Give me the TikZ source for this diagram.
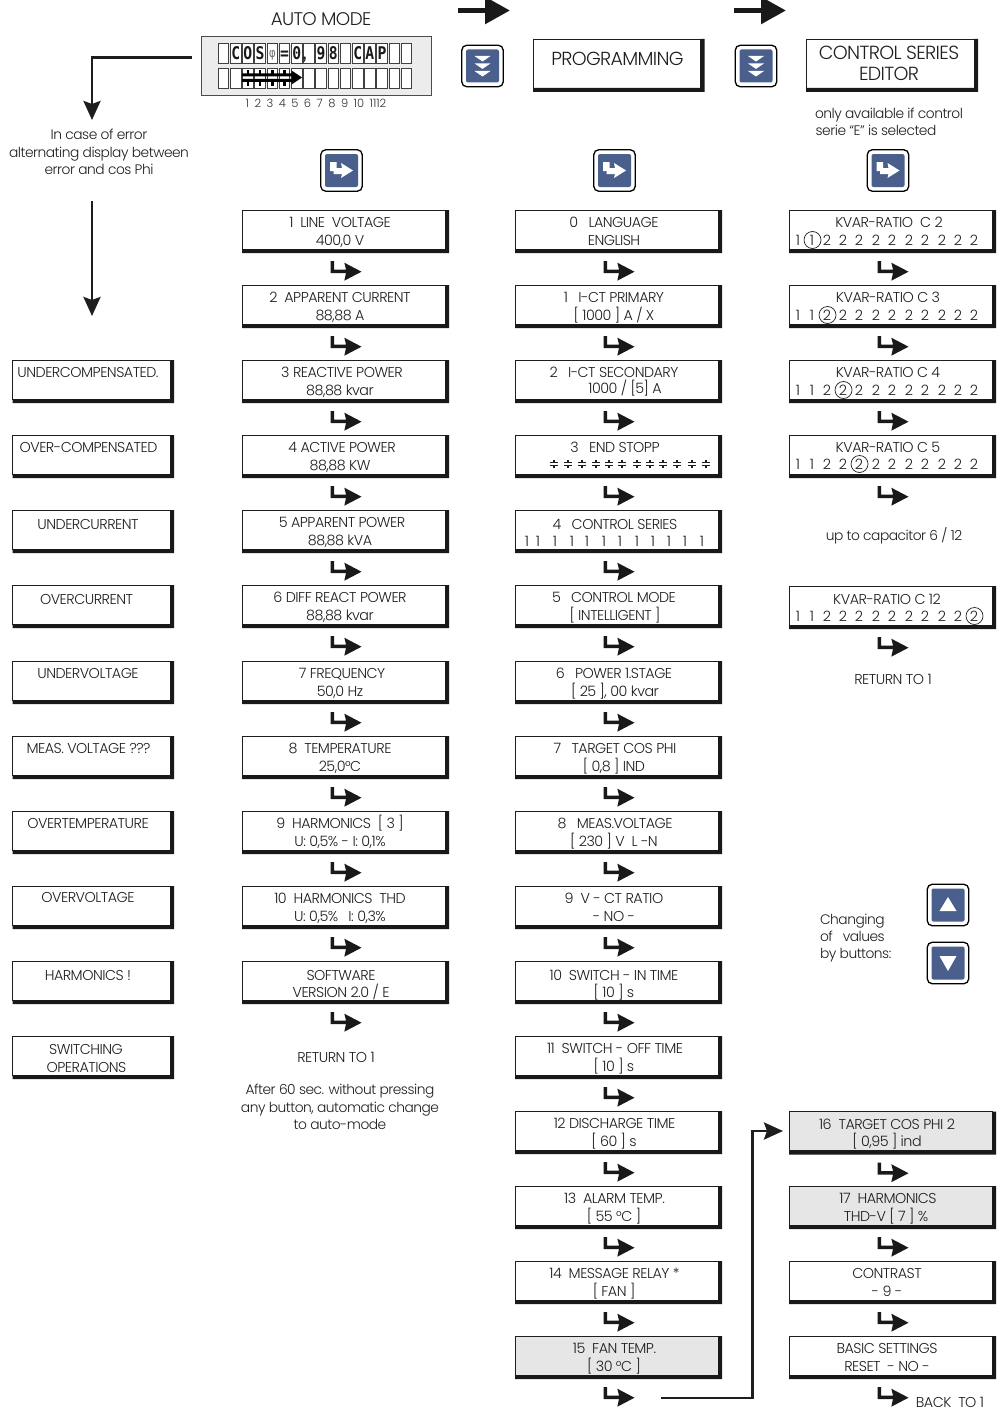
\documentclass[tikz,border=0pt]{standalone}
\usepackage{fontspec}
\setmainfont{Poppins Light}[LetterSpace=-3.5]
\newfontfamily\plainfont{Poppins Light}[LetterSpace=-3.5]
\newfontfamily\numfont{Poppins Light}
\newfontfamily\lcdfont{DejaVu Sans Mono}[FakeStretch=0.84]
\newfontfamily\commafont{Liberation Sans}
\usetikzlibrary{calc,arrows.meta}
\definecolor{inkc}{HTML}{1E1E1E}
\definecolor{btnblue}{HTML}{4A5F8C}
\definecolor{panelgrey}{HTML}{E6E6E6}
\definecolor{lcdgrey}{HTML}{ECECEC}
\tikzset{
  x=1pt,y=-1pt,
  lbl/.style={anchor=base,inner sep=0,outer sep=0,text=inkc,font=\fontsize{14.3}{18}\selectfont},
  lowlbl/.style={lbl,font=\plainfont\fontsize{13.8}{18}\selectfont},
  cellbox/.style={draw=inkc,line width=0.8,fill=white,anchor=north west,minimum width=203,minimum height=39,inner sep=0,outer sep=0},
  greybox/.style={cellbox,fill=panelgrey},
  errbox/.style={cellbox,minimum width=157.5},
  bigbox/.style={cellbox,minimum height=49},
  shadowfill/.style={fill=black!90},
  conn/.style={draw=inkc,line width=2.9,-{Stealth[length=19,width=17,inset=3]}},
  toparrow/.style={draw=black!90,line width=5.5,-{Stealth[length=25,width=26,inset=0]}},
  btnouter/.style={draw=black,line width=1.3,fill=white,rounded corners=5,minimum size=41.5,inner sep=0},
  btninner/.style={fill=btnblue,rounded corners=2,minimum size=33,inner sep=0},
  ring/.style={draw=inkc,line width=0.7,circle,minimum size=17,inner sep=0},
  lcdchar/.style={anchor=base,inner sep=0,font=\lcdfont\bfseries\fontsize{17.5}{18}\selectfont,text=black!90},
  lcdcell/.style={draw=black!75,line width=0.9,fill=white,minimum width=10.5,minimum height=20,inner sep=0},
  stepglyph/.pic={\fill[black!90] (0,0)--(3.5,0)--(3.5,8.5)--(15.5,8.5)--(13.8,1.7)--(31,10.7)--(13.8,19.7)--(15.5,12)--(0,12)--cycle;},
  enterglyph/.pic={\fill[white] (-11.5,-8.5)--(-5,-8.5)--(-5,-2.5)--(0.5,-2.5)--(-0.5,-7.5)--(11.5,0)--(-0.5,7.5)--(0.5,3.5)--(-8,3.5)--(-8,0.5)--(-11.5,0.5)--cycle;},
  downglyph/.pic={\foreach \dy in {-10,-2.6,5}{\fill[white] (-8,\dy)--(8,\dy)--(0,\dy+5.5)--cycle;}},
  upglyph/.pic={\fill[white] (-8.5,6)--(8.5,6)--(0,-8)--cycle;},
  dnglyph/.pic={\fill[white] (-8.5,-7)--(8.5,-7)--(0,8)--cycle;},
  capglyph/.pic={\draw[inkc,line width=1.3] (-3.8,-1.3)--(3.8,-1.3) (-3.8,1.3)--(3.8,1.3) (0,-4.2)--(0,-1.3) (0,1.3)--(0,4.2);},
  lcdcap/.pic={\draw[black,line width=2.6] (0,-8)--(0,-2) (0,2)--(0,8);}
}
% panel with drop shadow
\newcommand\panel[4][cellbox]{%
  \node[#1] (#2) at (#3,#4) {};
  \fill[shadowfill] (#2.north east)--++(4,0)--($(#2.south east)+(4,4)$)--($(#2.south west)+(0,4)$)--(#2.south west)--(#2.south east)--cycle;}
\newcommand\txt[4]{\node[lbl] (#1) at (#2,#3+5.2) {#4};}
\newcommand\lowtxt[4]{\node[lowlbl] (#1) at (#2,#3+5.2) {#4};}
% panel, two lines of text
\newcommand\ent[8][cellbox]{\panel[#1]{#2}{#3}{#4}\txt{#2a}{#5}{#4+12.5}{#6}\txt{#2b}{#7}{#4+30}{#8}}
\newcommand\stepafter[1]{\pic at ($(#1.south west)+(88.5,12)$) {stepglyph};}
\newcommand\button[4]{\node[btnouter] (#1) at (#2,#3) {};\node[btninner] (#1i) at (#1) {};\pic at (#1) {#4};}
% row of twelve digits with one ringed
\newcommand\digitrow[4]{% name, ring index, y, digits
  \foreach \d [count=\i] in {#4}{
    \pgfmathsetmacro\xp{{798,812,827,843,859,876,892,909,925,942,958,974}[\i-1]}
    \node[lbl] (#1d\i) at (\xp,#3+5.2) {\d};
    \ifnum\i=#2 \node[ring] (#1r) at (\xp+0.5,#3) {};\fi
  }}
\begin{document}
\begin{tikzpicture}
\useasboundingbox (0,0) rectangle (996,1410);
\fill[white] (0,0) rectangle (996,1410);

% ---- header
\node[lbl,font=\fontsize{18.3}{20}\selectfont] (automode) at (321,25.5) {AUTO MODE};
\node[draw=black!70,line width=0.9,fill=lcdgrey,anchor=north west,minimum width=230,minimum height=59,inner sep=0] (lcd) at (201,36) {};
\foreach \i in {0,...,15}{
  \node[lcdcell] (lt\i) at (223.5+12.2*\i,53) {};
  \node[lcdcell] (lb\i) at (223.5+12.2*\i,78) {};
}
\foreach \i/\c in {1/C,2/O,3/S,5/=,6/0,8/9,9/8,11/C,12/A,13/P}{
  \node[lcdchar] (lc\i) at ($(lt\i.center)+(0,6.5)$) {\c};
}
\node[anchor=base,inner sep=0,font=\lcdfont\fontsize{13}{13}\selectfont,text=black!55] (lcphi) at ($(lt4.center)+(0,4.5)$) {φ};
\node[anchor=base,inner sep=0,font=\commafont\bfseries\fontsize{16}{16}\selectfont,text=black!90] (lccomma) at (304.5,60) {,};
\fill[black] (242,73.5) rectangle (292,76.3) (242,79) rectangle (292,81.8);
\foreach \i in {2,3,4,5}{\pic at ($(lb\i.center)+(0,0)$) {lcdcap};}
\fill[black] (291.5,70.5)--(302,77.5)--(291.5,84.5)--cycle;
\node[lbl,text=black!80,font=\numfont\fontsize{11.5}{12}\selectfont] (lcdnums) at (316,107.5) {\spaceskip=5.5pt 1 2 3 4 5 6 7 8 9 10 1112};

\coordinate (ta1s) at (458,10.5); \coordinate (ta1e) at (510,10.5);
\coordinate (ta2s) at (734,10.5); \coordinate (ta2e) at (786,10.5);
\draw[toparrow] (ta1s)--(ta1e);
\draw[toparrow] (ta2s)--(ta2e);

\button{bdown1}{482.5}{66}{downglyph}
\button{bdown2}{756}{66}{downglyph}
\panel[bigbox,minimum width=167.5]{prog}{533}{39}
\panel[bigbox,minimum width=168]{cse}{806}{39}
\txt{progt}{617.5}{60}{\fontsize{18.9}{20}\selectfont PROGRAMMING}
\txt{cset1}{889}{54}{\fontsize{19}{20}\selectfont CONTROL SERIES}
\txt{cset2}{889}{75}{\fontsize{19}{20}\selectfont EDITOR}
\lowtxt{only1}{889}{113}{only available if control}
\lowtxt{only2}{876}{130}{serie “E” is selected}

\button{ent1}{341.5}{170.5}{enterglyph}
\button{ent2}{614.5}{170.5}{enterglyph}
\button{ent3}{888}{170.5}{enterglyph}

% ---- error note and arrows
\coordinate (e1s) at (191.5,57.5); \coordinate (e1c) at (92,57.5); \coordinate (e1e) at (92,120);
\draw[conn] (e1s)--(e1c)--(e1e);
\coordinate (e2s) at (92,201); \coordinate (e2e) at (92,316);
\draw[conn] (e2s)--(e2e);
\lowtxt{note1}{99}{134}{In case of error}
\lowtxt{note2}{99}{152}{alternating display between}
\lowtxt{note3}{99}{169}{error and cos Phi}

% ---- error column
\panel[errbox]{er1}{12.5}{360} \txt{er1t}{88}{372}{UNDERCOMPENSATED.}
\panel[errbox]{er2}{12.5}{435} \txt{er2t}{88.5}{447}{OVER-COMPENSATED}
\panel[errbox]{er3}{12.5}{510} \txt{er3t}{88}{524}{UNDERCURRENT}
\panel[errbox]{er4}{12.5}{585} \txt{er4t}{86.5}{599}{OVERCURRENT}
\panel[errbox]{er5}{12.5}{661} \txt{er5t}{88}{673}{UNDERVOLTAGE}
\panel[errbox]{er6}{12.5}{736} \txt{er6t}{88.5}{748}{MEAS. VOLTAGE ???}
\panel[errbox]{er7}{12.5}{811} \txt{er7t}{88}{823}{OVERTEMPERATURE}
\panel[errbox]{er8}{12.5}{886} \txt{er8t}{88}{897}{OVERVOLTAGE}
\panel[errbox]{er9}{12.5}{961} \txt{er9t}{88}{975}{HARMONICS !}
\panel[errbox]{er10}{12.5}{1036} \txt{er10a}{86}{1049}{SWITCHING} \txt{er10b}{86.5}{1067}{OPERATIONS}

% ---- auto-mode column
\ent{a1}{242}{210}{340}{1~~LINE~~VOLTAGE}{340}{400,0 V}
\ent{a2}{242}{285}{340}{2~~APPARENT CURRENT}{340}{88,88 A}
\ent{a3}{242}{360}{342}{3 REACTIVE POWER}{340}{88,88 kvar}
\ent{a4}{242}{435}{342}{4 ACTIVE POWER}{340}{88,88 KW}
\ent{a5}{242}{510}{342}{5 APPARENT POWER}{340}{88,88 kVA}
\ent{a6}{242}{585}{340}{6 DIFF REACT POWER}{340}{88,88 kvar}
\ent{a7}{242}{661}{342}{7 FREQUENCY}{340}{50,0 Hz}
\ent{a8}{242}{736}{340}{8~~TEMPERATURE}{340}{25,0°C}
\ent{a9}{242}{811}{340}{9~~HARMONICS~~[ 3 ]}{340}{U: 0,5\% - I: 0,1\%}
\ent{a10}{242}{886}{340}{10~~HARMONICS~~THD}{340}{U: 0,5\%~~~I: 0,3\%}
\panel{a11}{242}{961} \txt{a11a}{341}{975}{SOFTWARE} \txt{a11b}{341}{992}{VERSION 2.0 / E}
\foreach \n in {a1,a2,a3,a4,a5,a6,a7,a8,a9,a10,a11}{\stepafter{\n}}
\txt{aret}{336}{1057}{RETURN TO 1}
\lowtxt{aft1}{340}{1089}{After 60 sec. without pressing}
\lowtxt{aft2}{340}{1107}{any button, automatic change}
\lowtxt{aft3}{340}{1124}{to auto-mode}

% ---- programming column
\ent{p0}{515}{210}{614}{0~~~LANGUAGE}{614}{ENGLISH}
\ent{p1}{515}{285}{614}{1~~~I-CT PRIMARY}{614}{[ 1000 ] A / X}
\panel{p2}{515}{360} \txt{p2a}{614}{372}{2~~~I-CT SECONDARY} \txt{p2b}{625}{388}{1000 / [5] A}
\panel{p3}{515}{435} \txt{p3a}{615}{447}{3~~~END STOPP}
\foreach \x [count=\i] in {554,568,582,596,609,622,637,650,663,677,692,706}{\pic at (\x,464) {capglyph};}
\panel{p4}{515}{510} \txt{p4a}{615}{524}{4~~~CONTROL SERIES}
\foreach \x [count=\i] in {527,538,555,572,587,604,620,637,653,669,685,702}{\node[lbl] (p4d\i) at (\x,546.2) {1};}
\ent{p5}{515}{585}{614}{5~~~CONTROL MODE}{615}{[ INTELLIGENT ]}
\ent{p6}{515}{661}{614}{6~~~POWER 1.STAGE}{615}{[ 25 ], 00 kvar}
\ent{p7}{515}{736}{615}{7~~~TARGET COS PHI}{614}{[ 0,8 ] IND}
\ent{p8}{515}{811}{615}{8~~~MEAS.VOLTAGE}{614}{[ 230 ] V~~L -N}
\ent{p9}{515}{886}{614}{9~~V - CT RATIO}{614}{- NO -}
\panel{p10}{515}{961} \txt{p10a}{614}{975}{10~~SWITCH - IN TIME} \txt{p10b}{614}{992}{[ 10 ] s}
\ent{p11}{515}{1036}{615}{11~~SWITCH - OFF TIME}{614}{[ 10 ] s}
\ent{p12}{515}{1111}{614.5}{12 DISCHARGE TIME}{614}{[ 60 ] s}
\ent{p13}{515}{1186}{614.5}{13~~ALARM TEMP.}{614}{[ 55 °C ]}
\ent{p14}{515}{1261}{614.5}{14~~MESSAGE RELAY *}{614}{[ FAN ]}
\ent[greybox]{p15}{515}{1336}{614.5}{15~~FAN TEMP.}{614}{[ 30 °C ]}
\foreach \n in {p0,p1,p2,p3,p4,p5,p6,p7,p8,p9,p10,p11,p12,p13,p14,p15}{\stepafter{\n}}

% ---- control series column
\panel{c2}{789}{210} \txt{c2a}{889}{222}{KVAR-RATIO~~C 2} \digitrow{c2}{2}{240}{1,1,2,2,2,2,2,2,2,2,2,2}
\panel{c3}{789}{285} \txt{c3a}{888}{297}{KVAR-RATIO C 3} \digitrow{c3}{3}{315}{1,1,2,2,2,2,2,2,2,2,2,2}
\panel{c4}{789}{360} \txt{c4a}{888}{372}{KVAR-RATIO C 4} \digitrow{c4}{4}{390}{1,1,2,2,2,2,2,2,2,2,2,2}
\panel{c5}{789}{435} \txt{c5a}{888}{447}{KVAR-RATIO C 5} \digitrow{c5}{5}{464}{1,1,2,2,2,2,2,2,2,2,2,2}
\lowtxt{cup}{894}{535}{up to capacitor 6 / 12}
\panel{c12}{789}{586} \txt{c12a}{887}{599}{KVAR-RATIO C 12} \digitrow{c12}{12}{616}{1,1,2,2,2,2,2,2,2,2,2,2}
\foreach \n in {c2,c3,c4,c5,c12}{\stepafter{\n}}
\txt{cret}{893}{679}{RETURN TO 1}

\node[lowlbl,anchor=base west] (chg2) at (820,924) {Changing};
\node[lowlbl,anchor=base west] (chg3) at (820,941) {of~~~values};
\node[lowlbl,anchor=base west] (chg4) at (820,958) {by buttons:};
\button{bup}{948}{905}{upglyph}
\button{bdn}{948}{963}{dnglyph}

\ent[greybox]{d16}{789}{1111.5}{887}{16~~TARGET COS PHI 2}{887}{[ 0,95 ] ind}
\ent[greybox]{d17}{789}{1186}{888}{17~~HARMONICS}{886}{THD-V [ 7 ] \%}
\ent{d18}{789}{1261}{887}{CONTRAST}{887}{- 9 -}
\ent{d19}{789}{1336}{887}{BASIC SETTINGS}{887}{RESET~~- NO -}
\foreach \n in {d16,d17,d18,d19}{\stepafter{\n}}
\txt{back}{950}{1402}{BACK~~TO 1}

\coordinate (lg1) at (661,1398); \coordinate (lg2) at (752.5,1398); \coordinate (lg3) at (752.5,1131);
\draw[conn,shorten >=6] (lg1)--(lg2)--(lg3)--(d16.west);
\end{tikzpicture}
\end{document}
